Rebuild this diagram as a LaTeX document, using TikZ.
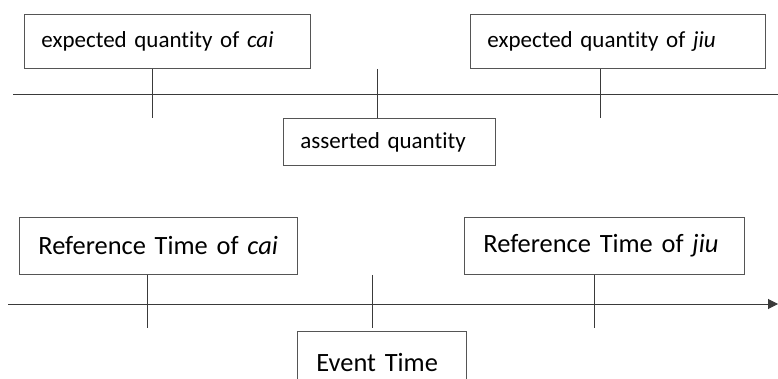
\documentclass[tikz,border=0pt]{standalone}
\usepackage{fontspec}
\setmainfont[Ligatures={NoCommon}]{Carlito}
\usetikzlibrary{arrows.meta}
\definecolor{linegray}{HTML}{3A3A3A}
\definecolor{boxgray}{HTML}{555555}
\begin{document}
\begin{tikzpicture}[x=1pt, y=-1pt,
  tl/.style={draw=boxgray, line width=0.9pt, anchor=north west, inner xsep=17pt, inner ysep=0pt, align=left},
  qbox/.style={tl, font=\fontsize{23}{26}\selectfont},
  rbox/.style={tl, inner xsep=19pt, font=\fontsize{26.4}{30}\selectfont},
  axis/.style={draw=linegray, line width=1pt},
  tick/.style={draw=linegray, line width=0.8pt}]
  \useasboundingbox (0,0) rectangle (778,379);
  % quantities
  \node[qbox, text width=252pt, minimum height=54pt] (qcai) at (24,14) {expected quantity of \textit{cai}};
  \node[qbox, text width=261pt, minimum height=54pt] (qjiu) at (470,14) {expected quantity of \textit{jiu}};
  \node[qbox, text width=178pt, minimum height=47pt] (qass) at (283,118) {asserted quantity};
  \coordinate (qa0) at (13,95);
  \coordinate (qa1) at (778,95);
  \draw[axis] (qa0) -- (qa1);
  \draw[axis] (qa1) ++(0,-3.5) -- ++(0,7);
  \coordinate (qt1) at (152,118);
  \coordinate (qt2) at (377,118);
  \coordinate (qt3) at (600,118);
  \draw[tick] (qcai.south -| qt1) -- (qt1);
  \draw[tick] (qcai.south -| qt2) -- (qass.north -| qt2);
  \draw[tick] (qjiu.south -| qt3) -- (qt3);
  % times
  \node[rbox, text width=240pt, minimum height=57pt] (rcai) at (19,217) {Reference Time of \textit{cai}};
  \node[rbox, text width=242pt, minimum height=57pt] (rjiu) at (464,217) {Reference Time of \textit{jiu}};
  \node[rbox, text width=131pt, minimum height=62pt, anchor=north west] (evt) at (297,331) {Event Time};
  \coordinate (ra0) at (8,304);
  \coordinate (ra1) at (778,304);
  \draw[axis, -{Triangle[length=10pt, width=10pt]}] (ra0) -- (ra1);
  \coordinate (rt1) at (147,328);
  \coordinate (rt2) at (372,328);
  \coordinate (rt3) at (594,328);
  \draw[tick] (rcai.south -| rt1) -- (rt1);
  \draw[tick] (rcai.south -| rt2) -- (rt2);
  \draw[tick] (rjiu.south -| rt3) -- (rt3);
\end{tikzpicture}
\end{document}
